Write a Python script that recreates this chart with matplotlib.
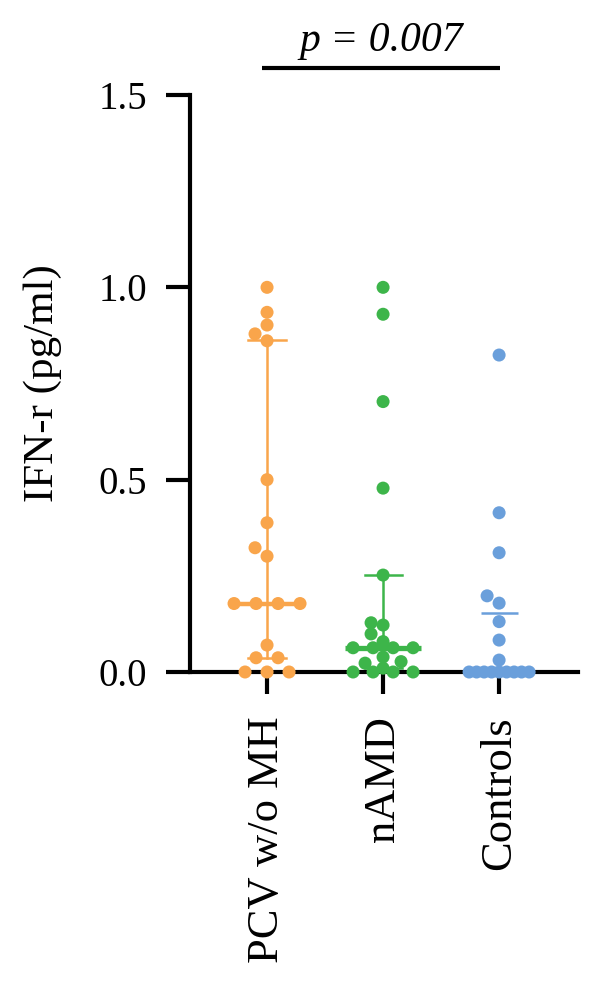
import matplotlib

matplotlib.use("Agg")
import matplotlib.pyplot as plt
import numpy as np

plt.rcParams["font.family"] = ["Liberation Serif", "DejaVu Serif"]

GROUPS = ["PCV w/o MH", "nAMD", "Controls"]
COLORS = ["#F9A54B", "#3DB54A", "#6A9FDB"]
PCV = [1.0, 0.935, 0.902, 0.879, 0.861, 0.50, 0.388, 0.323, 0.301,
       0.178, 0.178, 0.178, 0.178, 0.07, 0.037, 0.037, 0.0, 0.0, 0.0]
NAMD = [1.0, 0.93, 0.703, 0.478, 0.252, 0.128, 0.122, 0.099, 0.079,
        0.063, 0.063, 0.063, 0.063, 0.039, 0.027, 0.023, 0.01,
        0.0, 0.0, 0.0, 0.0]
CONTROLS = [0.824, 0.414, 0.31, 0.198, 0.179, 0.131, 0.083, 0.031,
            0.0, 0.0, 0.0, 0.0, 0.0, 0.0, 0.0, 0.0, 0.0]
CENTER = [0.178, 0.063, 0.153]
ERR_LO = [0.037, 0.01, None]
ERR_HI = [0.863, 0.252, None]
P_TEXT = "p = 0.007"
P_PAIR = (0, 2)
YTICKS = [0.0, 0.5, 1.0, 1.5]

# layout / style (not data)
SPREAD_PX = [22, 20, 7.5]
CENTER_HALF = [0.29, 0.33, 0.16]
CENTER_LW = [3.2, 3.8, 1.8]
DIAM_PX = 12


def swarm_offsets(ax, vals, spread_px):
    """simple beeswarm: identical values in centered rows, others nudged sideways"""
    tr = ax.transData
    px_x = tr.transform((1, 0))[0] - tr.transform((0, 0))[0]
    uniq, counts = np.unique(np.round(vals, 4), return_counts=True)
    placed = []
    out_v, out_x = [], []
    for v, n in zip(uniq, counts):
        ypx = tr.transform((0, v))[1]
        if n > 1:
            offs = [(i - (n - 1) / 2) * spread_px for i in range(n)]
        else:
            offs = None
            for k in [0, -1, 1, -2, 2, -3, 3, -4, 4]:
                o = k * DIAM_PX / 2
                if all(np.hypot(o - px, ypx - py) >= DIAM_PX * 0.9 for px, py in placed):
                    offs = [o]
                    break
            if offs is None:
                offs = [0.0]
        for o in offs:
            placed.append((o, ypx))
            out_v.append(v)
            out_x.append(o / px_x)
    return np.array(out_x), np.array(out_v)


fig = plt.figure(figsize=(6, 9.83), dpi=100)
ax = fig.add_axes([190 / 600, 1 - 672 / 983, 388 / 600, 577 / 983])
ax.set_xlim(-0.664, 2.68)
ax.set_ylim(0, 1.5)

for i, vals in enumerate([PCV, NAMD, CONTROLS]):
    col = COLORS[i]
    if ERR_LO[i] is not None:
        ax.plot([i, i], [ERR_LO[i], ERR_HI[i]], color=col, lw=1.8, zorder=3)
        for yy in (ERR_LO[i], ERR_HI[i]):
            ax.plot([i - 0.16, i + 0.16], [yy, yy], color=col, lw=1.8, zorder=3)
    ax.plot([i - CENTER_HALF[i], i + CENTER_HALF[i]], [CENTER[i], CENTER[i]],
            color=col, lw=CENTER_LW[i], zorder=3, solid_capstyle="butt")
    dx, vv = swarm_offsets(ax, vals, SPREAD_PX[i])
    ax.scatter(i + dx, vv, s=88, color=col, edgecolors="none", zorder=5,
               clip_on=False)

for side in ("top", "right"):
    ax.spines[side].set_visible(False)
for side in ("left", "bottom"):
    ax.spines[side].set_linewidth(3.0)
    ax.spines[side].set_zorder(4)

ax.set_yticks(YTICKS, [f"{t:.1f}" for t in YTICKS])
ax.set_xticks(range(len(GROUPS)), GROUPS, rotation=90, va="top", ha="center")
ax.tick_params(axis="y", length=17, width=3.0, pad=14, labelsize=28)
ax.tick_params(axis="x", length=16, width=3.0, pad=16, labelsize=32)

ax.set_ylabel("IFN-r (pg/ml)", fontsize=31, va="center")
ax.yaxis.set_label_coords(-0.379, 0.5)

# significance bracket above the plot
a, b = P_PAIR
ax.plot([a - 0.04, b + 0.01], [1.57, 1.57], color="black", lw=3.0, clip_on=False,
        solid_capstyle="butt")
ax.text((a + b) / 2 - 0.02, 1.59, P_TEXT, style="italic", fontsize=30,
        ha="center", va="bottom")

fig.savefig("out.png", dpi=100)
